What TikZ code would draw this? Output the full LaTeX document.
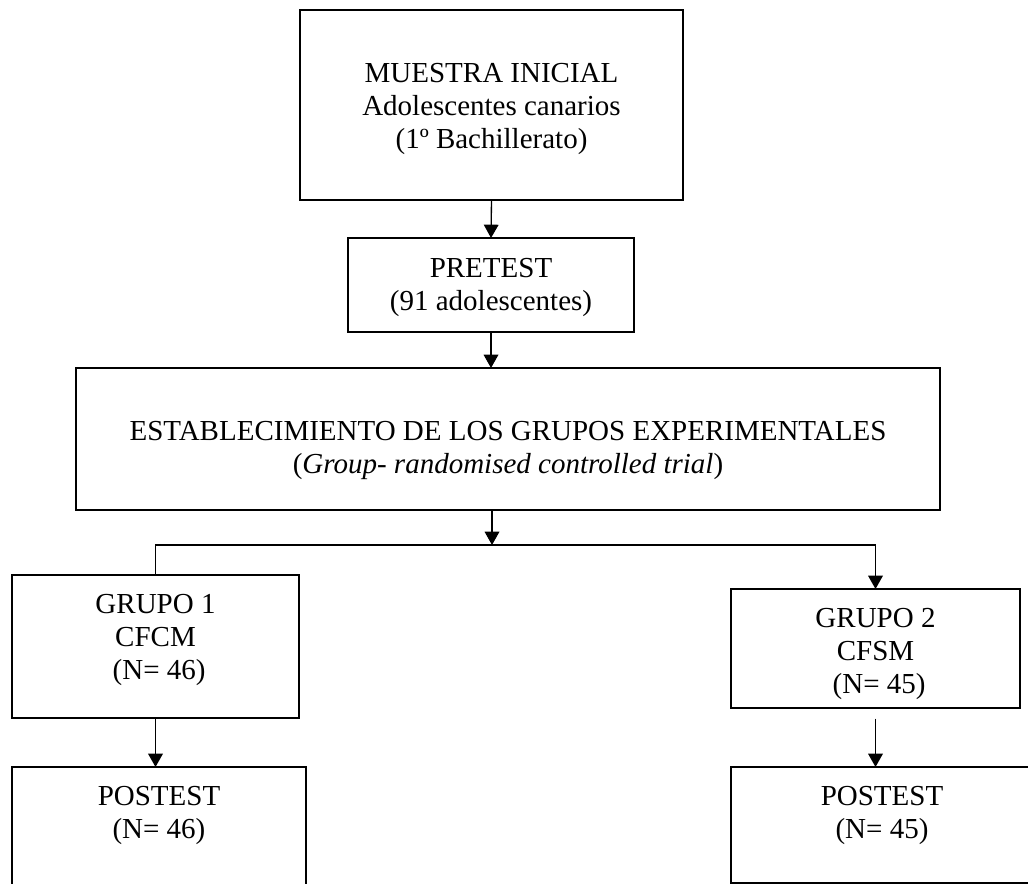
\documentclass[tikz,border=0pt]{standalone}
\usepackage{fontspec}
\setmainfont{Liberation Serif}
\usetikzlibrary{arrows.meta}

\begin{document}
\begin{tikzpicture}[x=0.75pt,y=0.75pt,yscale=-1,xscale=1,
  caja/.style={draw, line width=1pt, inner sep=0pt, outer sep=0pt},
  texto/.style={anchor=north, inner sep=0pt, align=center, font=\fontsize{21.75}{24.75}\selectfont},
  flecha/.style={line width=1pt, -{Triangle[length=10pt,width=11pt]}}]
\useasboundingbox (0,0) rectangle (1028,884);
\clip (0,0) rectangle (1028,884);

%Shape: Rectangle [muestra]
\node [caja, minimum width=287.25pt, minimum height=142.5pt] (muestra) at (491.5,105) {};
%Shape: Rectangle [pretest]
\node [caja, minimum width=214.5pt, minimum height=70.5pt] (pretest) at (491,285) {};
%Shape: Rectangle [grupos]
\node [caja, minimum width=648pt, minimum height=106.5pt] (grupos) at (508,439) {};
%Shape: Rectangle [grupo1]
\node [caja, minimum width=215.25pt, minimum height=107.25pt] (grupo1) at (155.5,646.5) {};
%Shape: Rectangle [grupo2]
\node [caja, minimum width=216.75pt, minimum height=89.25pt] (grupo2) at (875.5,648.5) {};
%Shape: Rectangle [postest1]
\node [caja, minimum width=220.5pt, minimum height=93.75pt] (postest1) at (159,829.5) {};
%Shape: Rectangle [postest2]
\node [caja, minimum width=226.5pt, minimum height=87pt] (postest2) at (882,825) {};

%Straight Lines
\coordinate (rama) at (492,545);
\draw [flecha] (muestra.south) -- (pretest.north);
\draw [flecha] (pretest.south) -- (pretest.south |- grupos.north);
\draw [flecha] (rama |- grupos.south) -- (rama);
\draw [flecha] (grupo1.north) |- (rama) -| (grupo2.north);
\draw [flecha] (grupo1.south) -- (grupo1.south |- postest1.north);
\draw [flecha, shorten <=8pt] (grupo2.south) -- (grupo2.south |- postest2.north);

% Text Node
\node [texto] (tmuestra) at (491.5,63) {MUESTRA INICIAL\\Adolescentes canarios\\(1º Bachillerato)};
% Text Node
\node [texto] (tpretest) at (491,258) {PRETEST\\(91 adolescentes)};
% Text Node
\node [texto] (tgrupos) at (508,421) {ESTABLECIMIENTO DE LOS GRUPOS EXPERIMENTALES\\(\textit{Group- randomised controlled trial})};
% Text Node
\node [texto] (tgrupo1) at (155.5,594) {GRUPO 1\\CFCM\\~(N= 46)};
% Text Node
\node [texto] (tgrupo2) at (875.5,608) {GRUPO 2\\CFSM\\~(N= 45)};
% Text Node
\node [texto] (tpostest1) at (159,786) {POSTEST\\(N= 46)};
% Text Node
\node [texto] (tpostest2) at (882,786) {POSTEST\\(N= 45)};
\end{tikzpicture}
\end{document}
